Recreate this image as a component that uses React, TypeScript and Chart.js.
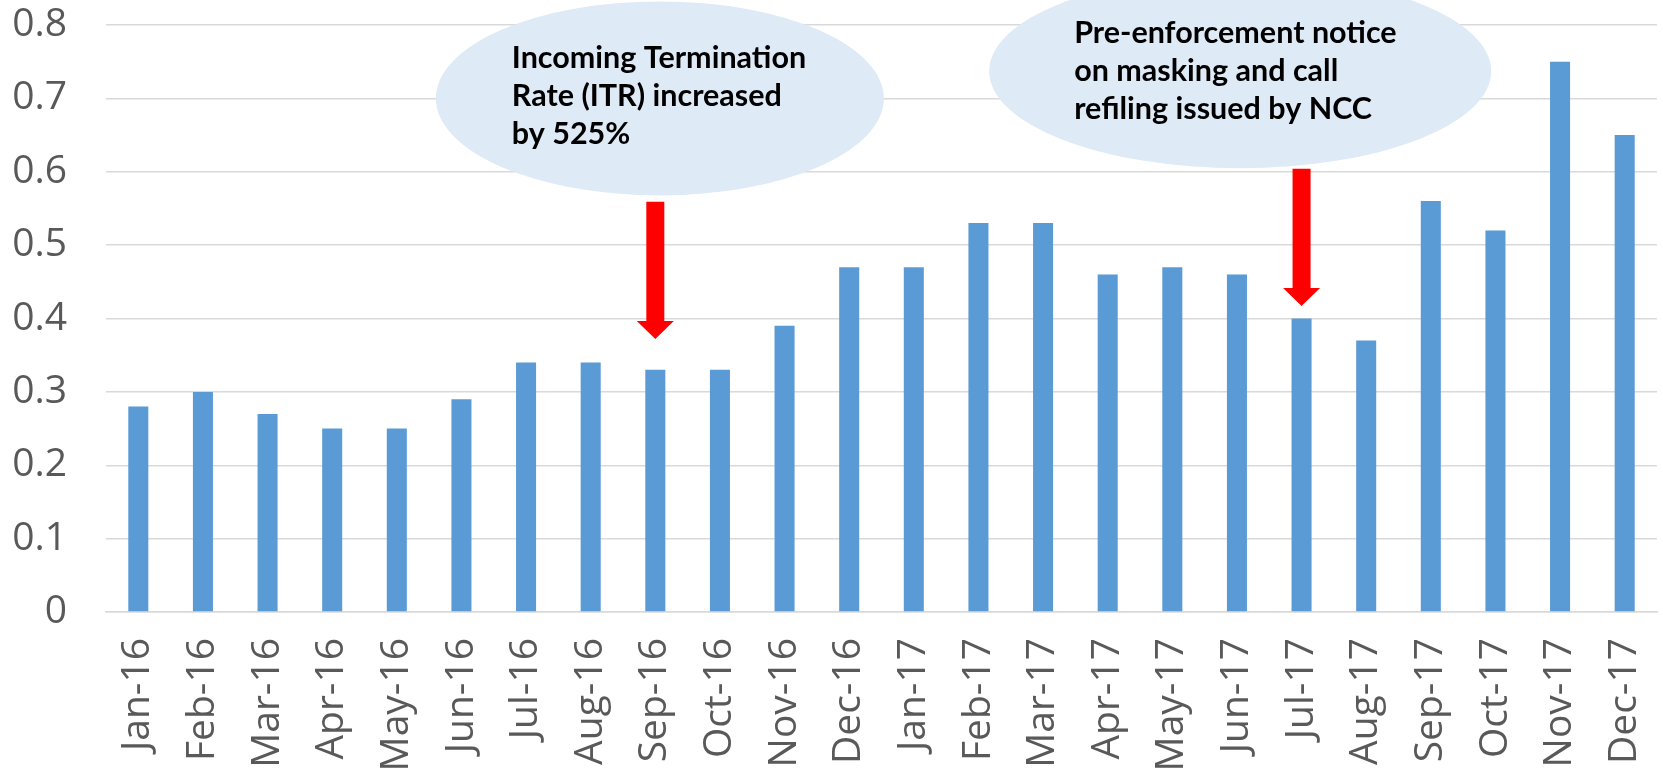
import React, { useEffect, useRef } from "react";
import { Chart, registerables } from "chart.js";

Chart.register(...registerables);

const months = [
  "Jan-16", "Feb-16", "Mar-16", "Apr-16", "May-16", "Jun-16",
  "Jul-16", "Aug-16", "Sep-16", "Oct-16", "Nov-16", "Dec-16",
  "Jan-17", "Feb-17", "Mar-17", "Apr-17", "May-17", "Jun-17",
  "Jul-17", "Aug-17", "Sep-17", "Oct-17", "Nov-17", "Dec-17",
];

const rates = [
  0.28, 0.30, 0.27, 0.25, 0.25, 0.29,
  0.34, 0.34, 0.33, 0.33, 0.39, 0.47,
  0.47, 0.53, 0.53, 0.46, 0.47, 0.46,
  0.40, 0.37, 0.56, 0.52, 0.75, 0.65,
];

const yMin = 0;
const yMax = 0.8;
const yStep = 0.1;

const calloutTexts = [
  ["Incoming Termination", "Rate (ITR) increased", "by 525%"],
  ["Pre-enforcement notice", "on masking and call", "refiling issued by NCC"],
];

// category index the callout / arrow refers to
const calloutCategories = [8, 18];

// annotation geometry (positions in scale units, sizes in px)
const calloutLayout = [
  { xIndex: 8.07, yValue: 0.70, rx: 224, ry: 97, textDx: -148, textDy: -30 },
  { xIndex: 17.05, yValue: 0.737, rx: 251, ry: 97, textDx: -166, textDy: -28 },
];
const arrowLayout = [
  { from: 0.559, to: 0.372 },
  { from: 0.604, to: 0.417 },
];

const AXIS_FONT = { family: "'Open Sans', sans-serif", size: 39 };
const AXIS_COLOR = "#595959";
const GRID_COLOR = "#D9D9D9";

const calloutPlugin = {
  id: "callouts",
  afterDraw(chart: any) {
    const { ctx } = chart;
    const x = chart.scales.x;
    const y = chart.scales.y;
    ctx.save();
    calloutLayout.forEach((c, i) => {
      const cx = x.getPixelForValue(c.xIndex);
      const cy = y.getPixelForValue(c.yValue);
      ctx.beginPath();
      ctx.ellipse(cx, cy, c.rx, c.ry, 0, 0, Math.PI * 2);
      ctx.fillStyle = "#DEEAF6";
      ctx.fill();
      ctx.fillStyle = "#000000";
      ctx.font = "bold 30.5px Lato, 'Open Sans', sans-serif";
      ctx.textAlign = "left";
      ctx.textBaseline = "alphabetic";
      calloutTexts[i].forEach((line, j) => {
        ctx.fillText(line, cx + c.textDx, cy + c.textDy + j * 38);
      });
    });
    arrowLayout.forEach((a, i) => {
      const px = x.getPixelForValue(calloutCategories[i]);
      const top = y.getPixelForValue(a.from);
      const tip = y.getPixelForValue(a.to);
      const headLen = 18;
      const headHalf = 18.5;
      const shaftHalf = 9;
      ctx.fillStyle = "#FF0000";
      ctx.beginPath();
      ctx.moveTo(px - shaftHalf, top);
      ctx.lineTo(px + shaftHalf, top);
      ctx.lineTo(px + shaftHalf, tip - headLen);
      ctx.lineTo(px + headHalf, tip - headLen);
      ctx.lineTo(px, tip);
      ctx.lineTo(px - headHalf, tip - headLen);
      ctx.lineTo(px - shaftHalf, tip - headLen);
      ctx.closePath();
      ctx.fill();
    });
    ctx.restore();
  },
};

export default function App() {
  const canvasRef = useRef<HTMLCanvasElement | null>(null);

  useEffect(() => {
    let chart: Chart | null = null;
    let cancelled = false;

    const create = () => {
      if (cancelled || !canvasRef.current) return;
      chart = new Chart(canvasRef.current, {
        type: "bar",
        data: {
          labels: months,
          datasets: [
            {
              data: rates,
              backgroundColor: "#5B9BD5",
              barPercentage: 0.31,
              categoryPercentage: 1,
            },
          ],
        },
        options: {
          responsive: false,
          animation: false,
          layout: { padding: { top: 25, right: 6, left: 0, bottom: 0 } },
          plugins: {
            legend: { display: false },
            tooltip: { enabled: false },
          },
          scales: {
            x: {
              grid: { display: false, drawTicks: false },
              border: { display: true, color: GRID_COLOR, width: 1.5 },
              ticks: {
                autoSkip: false,
                minRotation: 90,
                maxRotation: 90,
                padding: 26,
                color: AXIS_COLOR,
                font: AXIS_FONT,
              },
              afterFit: (s: any) => {
                s.height = 158;
                s.paddingLeft = 0;
                s.paddingRight = 0;
              },
            },
            y: {
              min: yMin,
              max: yMax,
              ticks: {
                stepSize: yStep,
                padding: 39,
                color: AXIS_COLOR,
                font: AXIS_FONT,
                callback: (v: any) => String(Math.round(Number(v) * 10) / 10),
              },
              grid: { color: GRID_COLOR, lineWidth: 1.5, drawTicks: false },
              border: { display: false },
              afterFit: (s: any) => {
                s.width = 106;
                s.paddingTop = 0;
                s.paddingBottom = 0;
              },
            },
          },
        },
        plugins: [calloutPlugin],
      } as any);
    };

    const fontsApi = (document as any).fonts;
    if (fontsApi && fontsApi.load) {
      Promise.all([
        fontsApi.load("39px 'Open Sans'"),
        fontsApi.load("bold 30.5px Lato"),
      ])
        .catch(() => null)
        .then(create);
    } else {
      create();
    }

    return () => {
      cancelled = true;
      if (chart) chart.destroy();
    };
  }, []);

  return (
    <div
      style={{
        position: "fixed",
        left: 0,
        top: 0,
        width: 1663,
        height: 770,
        background: "#ffffff",
      }}
    >
      <canvas ref={canvasRef} width={1663} height={770} />
    </div>
  );
}
